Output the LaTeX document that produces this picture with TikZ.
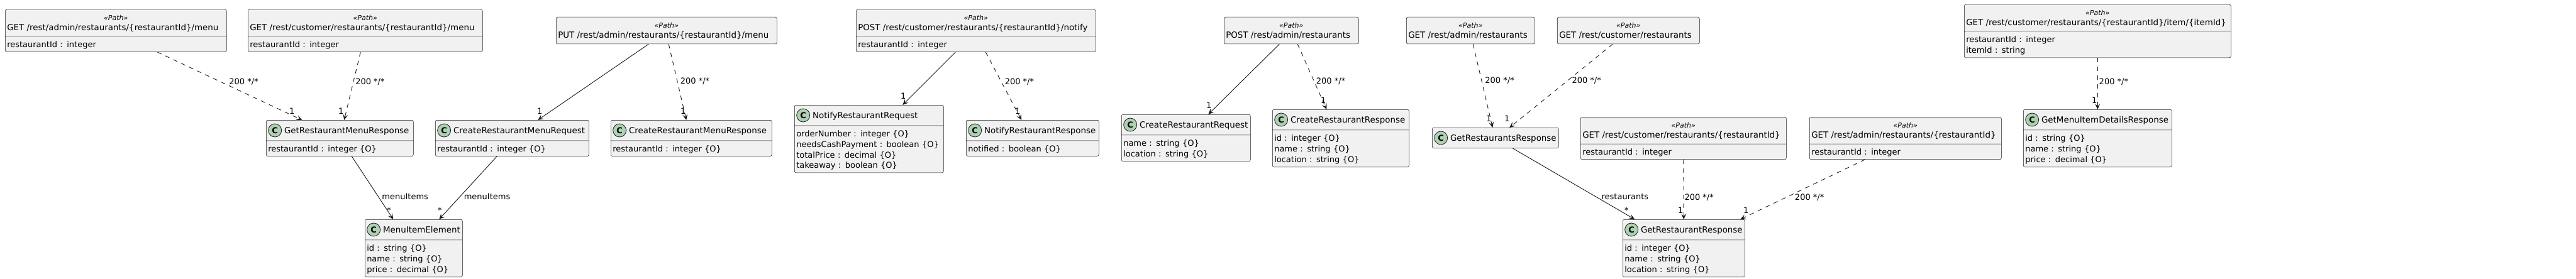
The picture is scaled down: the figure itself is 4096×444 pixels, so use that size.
\documentclass[tikz,border=0pt]{standalone}
\usepackage{fontspec}
\setmainfont{DejaVu Sans}
\usetikzlibrary{shapes.multipart,arrows.meta}
\definecolor{boxfill}{HTML}{F1F1F1}
\definecolor{linecol}{HTML}{181818}
\definecolor{spotfill}{HTML}{ADD1B2}
\newcommand{\fstrut}{\rule[-2.5pt]{0pt}{16pt}}
\newcommand{\hstrut}{\rule[-7.5pt]{0pt}{24pt}}
\newcommand{\namefont}{\fontsize{13.4}{15.75}\selectfont}
\newcommand{\stereo}{{\fontsize{11}{13}\itshape\selectfont «Path»}}
\newcommand{\spot}{\tikz[baseline=-4.5pt]\node[spotc]{C};}

\begin{document}
\begin{tikzpicture}
  [x=1pt,y=-1pt,
   umlbox/.style={rectangle split,rectangle split parts=2,draw=linecol,fill=boxfill,
     line width=0.5pt,rounded corners=2.5pt,anchor=north west,inner xsep=3pt,
     inner ysep=4pt,align=left,font=\fontsize{13}{16}\selectfont},
   headbox/.style={umlbox,rectangle split parts=1},
   spotc/.style={circle,anchor=center,text width=,align=center,draw=linecol,
     fill=spotfill,line width=0.8pt,inner sep=0pt,minimum size=21pt,
     rounded corners=0pt,font=\fontsize{13}{13}\bfseries\selectfont},
   dep/.style={draw=linecol,line width=0.9pt,dash pattern=on 7pt off 7pt,
     -{Stealth[length=9pt,width=8pt,inset=4pt]}},
   assoc/.style={draw=linecol,line width=0.9pt,
     -{Stealth[length=9pt,width=8pt,inset=4pt]}},
   lbl/.style={font=\fontsize{13}{13}\selectfont,inner sep=1pt,anchor=west},
   mult/.style={font=\fontsize{13}{13}\selectfont,inner sep=0pt,anchor=base,yshift=10pt}]
  \useasboundingbox (0,0) rectangle (4096,444);

  % paths
  \node[umlbox,text width=346pt] (admmenu) at (8,15)
    {\centering\namefont\rule{0pt}{13pt}\stereo\\\mbox{GET /rest/admin/restaurants/\{restaurantId\}/menu}\rule[-5.25pt]{0pt}{5.25pt}
     \nodepart{two}\fstrut restaurantId : integer};
  \node[umlbox,text width=367pt] (custmenu) at (394,15)
    {\centering\namefont\rule{0pt}{13pt}\stereo\\\mbox{GET /rest/customer/restaurants/\{restaurantId\}/menu}\rule[-5.25pt]{0pt}{5.25pt}
     \nodepart{two}\fstrut restaurantId : integer};
  \node[headbox,text width=345pt] (putmenu) at (884,27)
    {\centering\namefont\rule{0pt}{13pt}\stereo\\\mbox{PUT /rest/admin/restaurants/\{restaurantId\}/menu}\rule[-5.25pt]{0pt}{5.25pt}};
  \node[umlbox,text width=375pt] (notify) at (1361,15)
    {\centering\namefont\rule{0pt}{13pt}\stereo\\\mbox{POST /rest/customer/restaurants/\{restaurantId\}/notify}\rule[-5.25pt]{0pt}{5.25pt}
     \nodepart{two}\fstrut restaurantId : integer};
  \node[headbox,text width=208pt] (postrest) at (1946,27)
    {\centering\namefont\rule{0pt}{13pt}\stereo\\\mbox{POST /rest/admin/restaurants}\rule[-5.25pt]{0pt}{5.25pt}};
  \node[headbox,text width=198pt] (admrest) at (2236,27)
    {\centering\namefont\rule{0pt}{13pt}\stereo\\\mbox{GET /rest/admin/restaurants}\rule[-5.25pt]{0pt}{5.25pt}};
  \node[headbox,text width=220pt] (custrest) at (2476,27)
    {\centering\namefont\rule{0pt}{13pt}\stereo\\\mbox{GET /rest/customer/restaurants}\rule[-5.25pt]{0pt}{5.25pt}};
  \node[umlbox,text width=321pt] (custrestid) at (2513,186)
    {\centering\namefont\rule{0pt}{13pt}\stereo\\\mbox{GET /rest/customer/restaurants/\{restaurantId\}}\rule[-5.25pt]{0pt}{5.25pt}
     \nodepart{two}\fstrut restaurantId : integer};
  \node[umlbox,text width=299pt] (admrestid) at (2877,186)
    {\centering\namefont\rule{0pt}{13pt}\stereo\\\mbox{GET /rest/admin/restaurants/\{restaurantId\}}\rule[-5.25pt]{0pt}{5.25pt}
     \nodepart{two}\fstrut restaurantId : integer};
  \node[umlbox,text width=418pt] (custitem) at (3123,7)
    {\centering\namefont\rule{0pt}{13pt}\stereo\\\mbox{GET /rest/customer/restaurants/\{restaurantId\}/item/\{itemId\}}\rule[-5.25pt]{0pt}{5.25pt}
     \nodepart{two}\fstrut restaurantId : integer\\\fstrut itemId : string};

  % classes
  \node[umlbox,text width=228pt] (getmenuresp) at (423,191)
    {\centering\hstrut\spot\kern4pt\mbox{\namefont GetRestaurantMenuResponse}
     \nodepart{two}\fstrut restaurantId : integer \{O\}};
  \node[umlbox,text width=149pt] (menuitem) at (580,349)
    {\centering\hstrut\spot\kern4pt\mbox{\namefont MenuItemElement}
     \nodepart{two}\fstrut id : string \{O\}\\\fstrut name : string \{O\}\\\fstrut price : decimal \{O\}};
  \node[umlbox,text width=238pt] (createmenureq) at (692,191)
    {\centering\hstrut\spot\kern4pt\mbox{\namefont CreateRestaurantMenuRequest}
     \nodepart{two}\fstrut restaurantId : integer \{O\}};
  \node[umlbox,text width=250pt] (createmenuresp) at (971,191)
    {\centering\hstrut\spot\kern4pt\mbox{\namefont CreateRestaurantMenuResponse}
     \nodepart{two}\fstrut restaurantId : integer \{O\}};
  \node[umlbox,text width=231pt] (notifyreq) at (1263,167)
    {\centering\hstrut\spot\kern4pt\mbox{\namefont NotifyRestaurantRequest}
     \nodepart{two}\fstrut orderNumber : integer \{O\}\\\fstrut needsCashPayment : boolean \{O\}\\\fstrut totalPrice : decimal \{O\}\\\fstrut takeaway : boolean \{O\}};
  \node[umlbox,text width=205pt] (notifyresp) at (1536,191)
    {\centering\hstrut\spot\kern4pt\mbox{\namefont NotifyRestaurantResponse}
     \nodepart{two}\fstrut notified : boolean \{O\}};
  \node[umlbox,text width=199pt] (createreq) at (1783,182)
    {\centering\hstrut\spot\kern4pt\mbox{\namefont CreateRestaurantRequest}
     \nodepart{two}\fstrut name : string \{O\}\\\fstrut location : string \{O\}};
  \node[umlbox,text width=211pt] (createresp) at (2023,174)
    {\centering\hstrut\spot\kern4pt\mbox{\namefont CreateRestaurantResponse}
     \nodepart{two}\fstrut id : integer \{O\}\\\fstrut name : string \{O\}\\\fstrut location : string \{O\}};
  \node[headbox,text width=195pt] (restsresp) at (2277,203)
    {\centering\hstrut\spot\kern4pt\mbox{\namefont GetRestaurantsResponse}};
  \node[umlbox,text width=188pt] (restresp) at (2580,349)
    {\centering\hstrut\spot\kern4pt\mbox{\namefont GetRestaurantResponse}
     \nodepart{two}\fstrut id : integer \{O\}\\\fstrut name : string \{O\}\\\fstrut location : string \{O\}};
  \node[umlbox,text width=230pt] (itemresp) at (3217,174)
    {\centering\hstrut\spot\kern4pt\mbox{\namefont GetMenuItemDetailsResponse}
     \nodepart{two}\fstrut id : string \{O\}\\\fstrut name : string \{O\}\\\fstrut price : decimal \{O\}};

  % responses
  \foreach \a/\da/\b/\db/\p/\lx/\mx in {
      admmenu/66/getmenuresp/-60/0.44/11.5/-16,
      custmenu/-7.5/getmenuresp/7/0.44/2/-5,
      putmenu/3.5/createmenuresp/-8/0.49/3.5/-5,
      notify/15.5/notifyresp/-17.5/0.44/4/-6,
      postrest/10/createresp/-22.5/0.57/2/-5,
      admrest/4/restsresp/-4.5/0.44/4/-6,
      custrest/-25/restsresp/22.5/0.44/6/-4,
      custrestid/0/restresp/0/0.63/0/-5,
      admrestid/-64.5/restresp/90/0.63/12/9,
      custitem/0/itemresp/0/0.47/1/-5}
    \draw[dep] ([xshift=\da pt]\a.south) -- node[lbl,pos=\p,xshift=\lx pt]{200 */*}
      ([xshift=\db pt]\b.north) node[mult,xshift=\mx pt]{1};

  % requests and fields
  \foreach \a/\da/\b/\db/\t/\p/\lx/\m/\mx in {
      getmenuresp/19/menuitem/-32.5/menuItems/0.64/4.5/*/-7,
      createmenureq/-24/menuitem/40.5/menuItems/0.64/5/*/1,
      putmenu/-28.5/createmenureq/41//0.5/0/1/3,
      notify/-32.5/notifyreq/53.5//0.5/0/1/1,
      postrest/-19/createreq/35.5//0.5/0/1/1,
      restsresp/27.5/restresp/-78/restaurants/0.68/8/*/-13}
    \draw[assoc] ([xshift=\da pt]\a.south) -- node[lbl,pos=\p,xshift=\lx pt]{\t}
      ([xshift=\db pt]\b.north) node[mult,xshift=\mx pt]{\m};
\end{tikzpicture}
\end{document}
